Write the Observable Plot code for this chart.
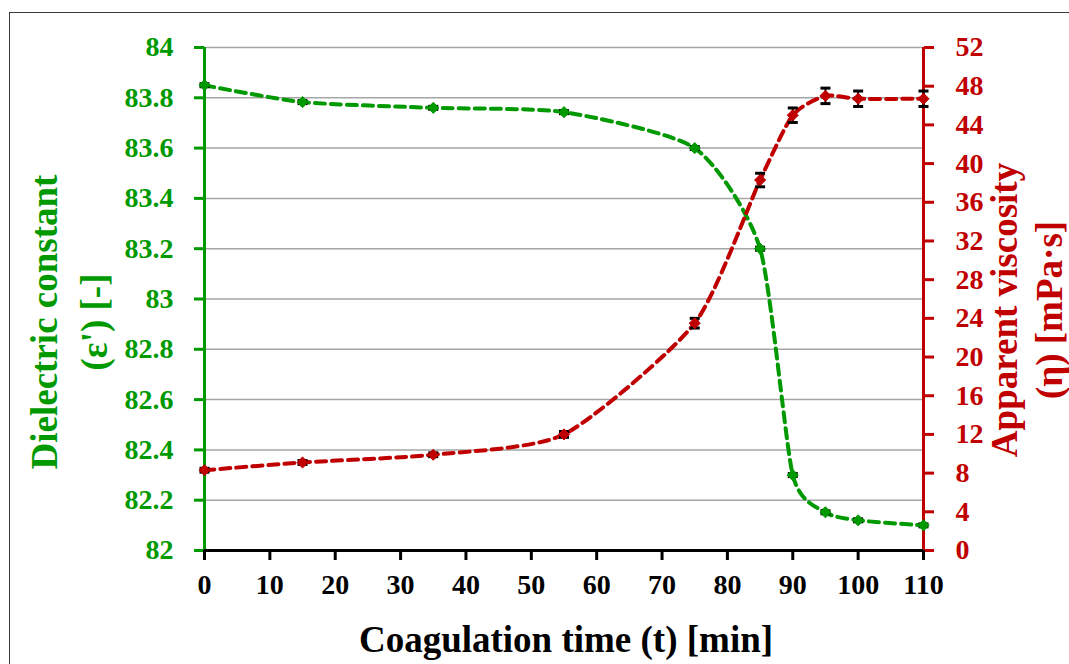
<!DOCTYPE html>
<html>
<head>
<meta charset="utf-8">
<script src="https://cdn.jsdelivr.net/npm/d3@7"></script>
<script src="https://cdn.jsdelivr.net/npm/@observablehq/plot@0.6"></script>
<style>
  html, body { margin: 0; padding: 0; background: #fff; overflow: hidden; }
  #wrap { position: relative; width: 1069px; height: 664px; }
  #border { position: absolute; left: 9px; top: 12px; width: 1200px; height: 800px; border: 1.5px solid #3a3a3a; pointer-events: none; }
</style>
</head>
<body>
<div id="wrap"><div id="border"></div></div>
<script>
// ---- data ----
const times = [0, 15, 35, 55, 75, 85, 90, 95, 100, 110];
const dielectric = [83.85, 83.783, 83.76, 83.743, 83.6, 83.2, 82.3, 82.152, 82.12, 82.1];
const dielectricErr = [0.006, 0.006, 0.006, 0.006, 0.006, 0.006, 0.006, 0.006, 0.006, 0.006];
const viscosity = [8.3, 9.1, 9.9, 12.0, 23.5, 38.3, 45.0, 47.0, 46.7, 46.7];
const viscosityErr = [0.2, 0.2, 0.2, 0.3, 0.5, 0.7, 0.75, 0.8, 0.8, 0.8];
const xTicks = [0, 10, 20, 30, 40, 50, 60, 70, 80, 90, 100, 110];
const leftTicks = [82, 82.2, 82.4, 82.6, 82.8, 83, 83.2, 83.4, 83.6, 83.8, 84];
const rightTicks = [0, 4, 8, 12, 16, 20, 24, 28, 32, 36, 40, 44, 48, 52];
const leftTitle = ["Dielectric constant", "(ε') [-]"];
const rightTitle = ["Apparent viscosity", "(η) [mPa·s]"];
const xTitle = "Coagulation time (t) [min]";

const GREEN = "#009900";
const RED = "#c00000";
const FONT = "Liberation Serif, DejaVu Serif, serif";

// viscosity (0..52) mapped onto the shared y scale (82..84)
const toLeft = v => 82 + v * 2 / 52;

const diel = times.map((t, i) => ({t, v: dielectric[i], lo: dielectric[i] - dielectricErr[i], hi: dielectric[i] + dielectricErr[i]}));
const visc = times.map((t, i) => ({t, v: toLeft(viscosity[i]), lo: toLeft(viscosity[i] - viscosityErr[i]), hi: toLeft(viscosity[i] + viscosityErr[i])}));

const cap = {draw(ctx) { ctx.moveTo(-5, 0); ctx.lineTo(5, 0); }};

const axisText = {fontSize: 28, fontWeight: "bold", fontFamily: FONT};
const titleText = {fontSize: 37, fontWeight: "bold", fontFamily: FONT, rotate: -90, textAnchor: "middle", lineAnchor: "middle"};
const lineStyle = {strokeWidth: 4, strokeDasharray: "10,6", curve: "cardinal", tension: 0.35};

const chart = Plot.plot({
  width: 1069,
  height: 664,
  marginLeft: 204,
  marginRight: 146,
  marginTop: 47,
  marginBottom: 114,
  style: {background: "transparent", fontFamily: FONT},
  x: {domain: [0, 110]},
  y: {domain: [82, 84]},
  marks: [
    Plot.gridY(leftTicks, {stroke: "#a6a6a6", strokeOpacity: 1, strokeWidth: 1.5}),
    Plot.ruleX([0], {stroke: GREEN, strokeWidth: 3}),
    Plot.ruleX([110], {stroke: RED, strokeWidth: 3}),
    Plot.ruleY([82], {stroke: "#000", strokeWidth: 3}),
    Plot.axisY(leftTicks, {anchor: "left", color: GREEN, tickSize: 10, tickPadding: 21, strokeWidth: 3, label: null,
      tickFormat: d => String(+d.toFixed(1)), ...axisText}),
    Plot.axisY(rightTicks.map(toLeft), {anchor: "right", color: RED, tickSize: 10, tickPadding: 22, strokeWidth: 3, label: null,
      tickFormat: d => String(Math.round((d - 82) * 26)), ...axisText}),
    Plot.axisX(xTicks, {anchor: "bottom", color: "#000", tickSize: 10, tickPadding: 14, strokeWidth: 3, label: null,
      tickFormat: d => String(d), ...axisText}),
    // lines
    Plot.line(diel, {x: "t", y: "v", stroke: GREEN, ...lineStyle}),
    Plot.line(visc, {x: "t", y: "v", stroke: RED, ...lineStyle}),
    // error bars
    Plot.ruleX(diel, {x: "t", y1: "lo", y2: "hi", stroke: "#000", strokeWidth: 2}),
    Plot.dot(diel, {x: "t", y: "lo", symbol: cap, stroke: "#000", strokeWidth: 3, fill: "none"}),
    Plot.dot(diel, {x: "t", y: "hi", symbol: cap, stroke: "#000", strokeWidth: 3, fill: "none"}),
    Plot.ruleX(visc, {x: "t", y1: "lo", y2: "hi", stroke: "#000", strokeWidth: 2}),
    Plot.dot(visc, {x: "t", y: "lo", symbol: cap, stroke: "#000", strokeWidth: 3, fill: "none"}),
    Plot.dot(visc, {x: "t", y: "hi", symbol: cap, stroke: "#000", strokeWidth: 3, fill: "none"}),
    // markers
    Plot.dot(diel, {x: "t", y: "v", symbol: "diamond2", r: 5, fill: GREEN, stroke: GREEN, strokeWidth: 1}),
    Plot.dot(visc, {x: "t", y: "v", symbol: "diamond2", r: 5, fill: RED, stroke: RED, strokeWidth: 1}),
    // titles
    Plot.text([leftTitle[0]], {frameAnchor: "left", dx: -159, dy: 23, fill: GREEN, ...titleText}),
    Plot.text([leftTitle[1]], {frameAnchor: "left", dx: -109, dy: 23, fill: GREEN, ...titleText}),
    Plot.text([rightTitle[0]], {frameAnchor: "right", dx: 82, dy: 11, fill: RED, ...titleText}),
    Plot.text([rightTitle[1]], {frameAnchor: "right", dx: 127, dy: 11, fill: RED, ...titleText}),
    Plot.text([xTitle], {frameAnchor: "bottom", dx: 2, dy: 90, fill: "#000", fontSize: 37, fontWeight: "bold", fontFamily: FONT,
      textAnchor: "middle", lineAnchor: "middle"})
  ]
});
chart.style.position = "absolute";
chart.style.left = "0px";
chart.style.top = "0px";
document.getElementById("wrap").prepend(chart);
</script>
</body>
</html>
